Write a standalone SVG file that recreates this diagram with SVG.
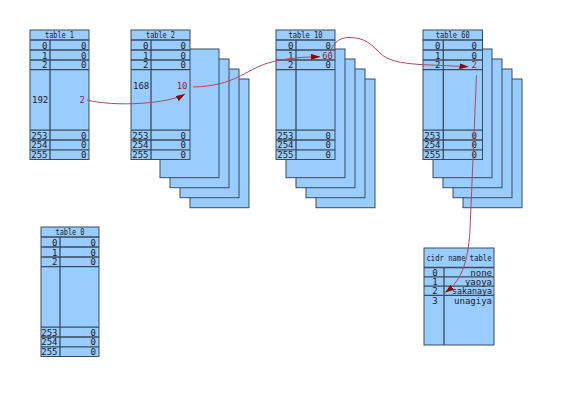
<svg xmlns="http://www.w3.org/2000/svg" width="585" height="414" viewBox="0 0 585 414">
<style>
.bg{fill:#ffffff}
.pg{fill:#99ccff;stroke:#3b4b5b;stroke-width:1}
.ln{stroke:#3b4b5b;stroke-width:1.3;fill:none}
.t{font-family:"DejaVu Sans Mono","Liberation Mono",monospace;font-size:9px;fill:#1a1a2a}
.e{text-anchor:end}
.m{text-anchor:middle}
.red{fill:#a02030}
.cn{fill:none;stroke:#b04a55;stroke-width:1}
</style>
<defs>
<marker id="ah" viewBox="0 0 9 6" refX="9" refY="3" markerWidth="9" markerHeight="6" markerUnits="userSpaceOnUse" orient="auto">
<path d="M0,0 L9,3 L0,6 z" fill="#8b0000"/>
</marker>
</defs>
<rect class="bg" x="0" y="0" width="585" height="414"/>

<g id="table1">
<rect class="pg" x="30" y="30" width="59" height="129.5"/>
<path class="ln" d="M30,40H89M30,50H89M30,60H89M30,69.7H89M30,130.2H89M30,140H89M30,149.8H89M50,40V159.5"/>
<text class="t m" x="59.5" y="38.3" textLength="29" lengthAdjust="spacingAndGlyphs">table 1</text>
<text class="t e" x="47.5" y="48.5">0</text><text class="t e" x="86.5" y="48.5">0</text>
<text class="t e" x="47.5" y="58.5">1</text><text class="t e" x="86.5" y="58.5">0</text>
<text class="t e" x="47.5" y="68.2">2</text><text class="t e" x="86.5" y="68.2">0</text>
<text class="t" x="32" y="103">192</text><text class="t e red" x="85" y="103">2</text>
<text class="t e" x="47.5" y="138.5">253</text><text class="t e" x="86.5" y="138.5">0</text>
<text class="t e" x="47.5" y="148.3">254</text><text class="t e" x="86.5" y="148.3">0</text>
<text class="t e" x="47.5" y="158">255</text><text class="t e" x="86.5" y="158">0</text>
</g>

<g id="table2">
<rect class="pg" x="190" y="79" width="59" height="128.7"/>
<rect class="pg" x="180" y="69" width="59" height="128.7"/>
<rect class="pg" x="170" y="59" width="59" height="128.7"/>
<rect class="pg" x="160" y="49" width="59" height="128.7"/>
<rect class="pg" x="131" y="30" width="59" height="129.5"/>
<path class="ln" d="M131,40H190M131,50H190M131,60H190M131,69.7H190M131,130.2H190M131,140H190M131,149.8H190M151,40V159.5"/>
<text class="t m" x="160.5" y="38.3" textLength="29" lengthAdjust="spacingAndGlyphs">table 2</text>
<text class="t e" x="148.5" y="48.5">0</text><text class="t e" x="186" y="48.5">0</text>
<text class="t e" x="148.5" y="58.5">1</text><text class="t e" x="186" y="58.5">0</text>
<text class="t e" x="148.5" y="68.2">2</text><text class="t e" x="186" y="68.2">0</text>
<text class="t" x="133" y="89">168</text><text class="t e red" x="187.5" y="89">10</text>
<text class="t e" x="148.5" y="138.5">253</text><text class="t e" x="186" y="138.5">0</text>
<text class="t e" x="148.5" y="148.3">254</text><text class="t e" x="186" y="148.3">0</text>
<text class="t e" x="148.5" y="158">255</text><text class="t e" x="186" y="158">0</text>
</g>

<g id="table10">
<rect class="pg" x="316" y="79" width="59" height="128.7"/>
<rect class="pg" x="306" y="69" width="59" height="128.7"/>
<rect class="pg" x="296" y="59" width="59" height="128.7"/>
<rect class="pg" x="286" y="49" width="59" height="128.7"/>
<rect class="pg" x="276" y="30" width="59" height="129.5"/>
<path class="ln" d="M276,40H335M276,50H335M276,60H335M276,69.7H335M276,130.2H335M276,140H335M276,149.8H335M296,40V159.5"/>
<text class="t m" x="305.5" y="38.3" textLength="34" lengthAdjust="spacingAndGlyphs">table 10</text>
<text class="t e" x="293.5" y="48.5">0</text><text class="t e" x="331" y="48.5">0</text>
<text class="t e" x="293.5" y="58.5">1</text><text class="t e red" x="333" y="58.5">60</text>
<text class="t e" x="293.5" y="68.2">2</text><text class="t e" x="331" y="68.2">0</text>
<text class="t e" x="293.5" y="138.5">253</text><text class="t e" x="331" y="138.5">0</text>
<text class="t e" x="293.5" y="148.3">254</text><text class="t e" x="331" y="148.3">0</text>
<text class="t e" x="293.5" y="158">255</text><text class="t e" x="331" y="158">0</text>
</g>

<g id="table60">
<rect class="pg" x="463" y="79" width="59" height="128.7"/>
<rect class="pg" x="453" y="69" width="59" height="128.7"/>
<rect class="pg" x="443" y="59" width="59" height="128.7"/>
<rect class="pg" x="433" y="49" width="59" height="128.7"/>
<rect class="pg" x="423" y="30" width="59.5" height="129.5"/>
<path class="ln" d="M423,40H482.5M423,50H482.5M423,60H482.5M423,69.7H482.5M423,130.2H482.5M423,140H482.5M423,149.8H482.5M443.3,40V159.5"/>
<text class="t m" x="452.8" y="38.3" textLength="34" lengthAdjust="spacingAndGlyphs">table 60</text>
<text class="t e" x="440.5" y="48.5">0</text><text class="t e" x="477" y="48.5">0</text>
<text class="t e" x="440.5" y="58.5">1</text><text class="t e" x="477" y="58.5">0</text>
<text class="t e" x="440.5" y="68.2">2</text><text class="t e red" x="477" y="68.2">2</text>
<text class="t e" x="440.5" y="138.5">253</text><text class="t e" x="477" y="138.5">0</text>
<text class="t e" x="440.5" y="148.3">254</text><text class="t e" x="477" y="148.3">0</text>
<text class="t e" x="440.5" y="158">255</text><text class="t e" x="477" y="158">0</text>
</g>

<g id="table0">
<rect class="pg" x="41" y="227" width="58" height="129.5"/>
<path class="ln" d="M41,237H99M41,247H99M41,257H99M41,266.7H99M41,327.2H99M41,337H99M41,346.8H99M60,237V356.5"/>
<text class="t m" x="70" y="235.3" textLength="29" lengthAdjust="spacingAndGlyphs">table 0</text>
<text class="t e" x="57.5" y="245.5">0</text><text class="t e" x="96" y="245.5">0</text>
<text class="t e" x="57.5" y="255.5">1</text><text class="t e" x="96" y="255.5">0</text>
<text class="t e" x="57.5" y="265.2">2</text><text class="t e" x="96" y="265.2">0</text>
<text class="t e" x="57.5" y="335.5">253</text><text class="t e" x="96" y="335.5">0</text>
<text class="t e" x="57.5" y="345.3">254</text><text class="t e" x="96" y="345.3">0</text>
<text class="t e" x="57.5" y="355">255</text><text class="t e" x="96" y="355">0</text>
</g>

<g id="cidr">
<rect class="pg" x="424" y="248" width="70" height="97"/>
<path class="ln" d="M424,267.5H494M424,276.8H494M424,286.1H494M424,295.4H494M444,267.5V345"/>
<text class="t m" x="459" y="260.5" textLength="65" lengthAdjust="spacingAndGlyphs">cidr name table</text>
<text class="t m" x="435" y="275.5">0</text><text class="t e" x="492" y="275.5">none</text>
<text class="t m" x="435" y="284.9">1</text><text class="t e" x="492" y="284.9">yaoya</text>
<text class="t m" x="435" y="294.2">2</text><text class="t e" x="492" y="294.2" textLength="40" lengthAdjust="spacingAndGlyphs">sakanaya</text>
<text class="t m" x="435" y="304">3</text><text class="t e" x="492" y="304">unagiya</text>
</g>

<g id="connectors">
<path class="cn" marker-end="url(#ah)" d="M87,100 C115,107 168,104 185,94"/>
<path class="cn" marker-end="url(#ah)" d="M193,87 C235,86 245,70 268,63 C285,58 305,57 320,56.7"/>
<path class="cn" marker-end="url(#ah)" d="M330,54 C332,44 338,38 348,37.5 C365,37 372,45 380,53 C388,61 400,63 420,64.5 C440,65.5 455,66 468.5,66.7"/>
<path class="cn" marker-end="url(#ah)" d="M476.5,75 L470,230 C468,265 460,282 445,292.5"/>
</g>
</svg>
